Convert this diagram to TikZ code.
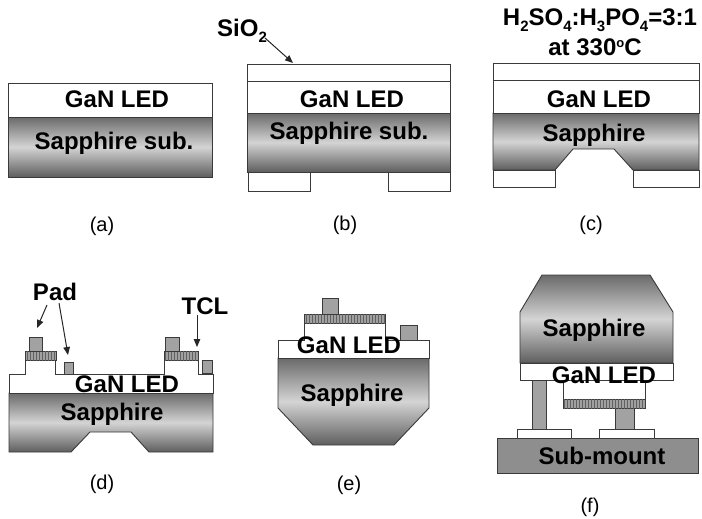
\documentclass[tikz,border=0pt]{standalone}
\usepackage{fontspec}
\setmainfont{Liberation Sans}
\usetikzlibrary{arrows.meta,patterns}

\definecolor{edgegray}{HTML}{3A3A3A}
\definecolor{sapdark}{HTML}{6A6A6A}
\definecolor{sapdarker}{HTML}{5E5E5E}
\definecolor{saplight}{HTML}{D4D4D4}
\definecolor{padgray}{HTML}{A2A2A2}
\definecolor{mountgray}{HTML}{8E8E8E}
\definecolor{tclgray}{HTML}{A0A0A0}

% chemical subscript and degree mark in the text font
\newcommand\chemsub[1]{\raisebox{-5.5pt}{\fontsize{15}{15}\selectfont #1}}
\newcommand\degmark{\raisebox{7.5pt}{\fontsize{13}{13}\selectfont o}}

\tikzset{
  layer/.style={draw=edgegray, line width=0.9pt, fill=white},
  sapphire/.style={draw=edgegray, line width=0.9pt,
    top color=sapdark, bottom color=sapdarker, middle color=saplight},
  padbox/.style={draw=edgegray, line width=0.8pt, fill=padgray},
  tclbox/.style={draw=edgegray, line width=0.8pt, fill=tclgray,
    postaction={pattern=vertical lines, pattern color=edgegray!80}},
  mount/.style={draw=edgegray, line width=0.9pt, fill=mountgray},
  lbl/.style={font=\fontsize{24}{24}\selectfont\bfseries, inner sep=0pt},
  caption/.style={font=\fontsize{20}{20}\selectfont, inner sep=0pt},
  arr/.style={-{Triangle[length=8pt,width=6.5pt]}, line width=1pt, draw=black!85},
}

\begin{document}
\begin{tikzpicture}[x=1pt,y=-1pt]
\useasboundingbox (0,0) rectangle (702,519);

% ---------- (a) as-grown wafer ----------
\path[sapphire] (8,117) rectangle (212,177);
\path[layer] (8,83) rectangle (212,117);
\node[lbl] (aGaN) at (117,99) {GaN LED};
\node[lbl] (aSap) at (114,143) {Sapphire sub.};
\node[caption] (aCap) at (102,226) {(a)};

% ---------- (b) SiO2 mask ----------
\path[sapphire] (247,113) rectangle (450,172);
\path[layer] (247,81) rectangle (450,113);
\path[layer] (247,64) rectangle (450,81);
\path[layer] (248,172) rectangle (310,191);
\path[layer] (388,172) rectangle (450,191);
\node[lbl] (bGaN) at (352,99) {GaN LED};
\node[lbl] (bSap) at (349,133) {Sapphire sub.};
\node[lbl] (bSiO) at (242,31) {SiO\chemsub{2}};
\coordinate (bSiOfrom) at (265,38);
\coordinate (bSiOto) at (293,63);
\draw[arr] (bSiOfrom) -- (bSiOto);
\node[caption] (bCap) at (345,225) {(b)};

% ---------- (c) wet etching ----------
\path[sapphire] (493,113) -- (699,113) -- (699,170) -- (633,170) -- (614,149)
  -- (573,149) -- (555,170) -- (493,170) -- cycle;
\path[layer] (493,80) rectangle (699,113);
\path[layer] (493,63) rectangle (699,80);
\path[layer] (493,170) rectangle (555,187);
\path[layer] (633,170) rectangle (699,187);
\node[lbl] (cGaN) at (599,99) {GaN LED};
\node[lbl] (cSap) at (594,135) {Sapphire};
\node[lbl] (cAcid) at (600,20) {H\chemsub{2}SO\chemsub{4}:H\chemsub{3}PO\chemsub{4}=3:1};
\node[lbl] (cTemp) at (595,47) {at 330\degmark C};
\node[caption] (cCap) at (591,225) {(c)};

% ---------- (d) mesa, TCL and pads ----------
\path[sapphire] (9,393) -- (213,393) -- (213,452) -- (149,452) -- (131,432)
  -- (90,432) -- (71,452) -- (9,452) -- cycle;
\path[layer] (9,393) -- (9,374) -- (25,374) -- (25,360) -- (55,360) -- (55,374)
  -- (164,374) -- (164,360) -- (198,360) -- (198,374) -- (213,374) -- (213,393) -- cycle;
\path[tclbox] (25,351) rectangle (56,360);
\path[tclbox] (164,351) rectangle (198,360);
\path[padbox] (29,337) rectangle (42,351);
\path[padbox] (165,337) rectangle (179,351);
\path[padbox] (64,362) rectangle (73,374);
\path[padbox] (202,360) rectangle (212,373);
\node[lbl] (dGaN) at (127,384) {GaN LED};
\node[lbl] (dSap) at (112,414) {Sapphire};
\node[lbl] (dPad) at (55,292) {Pad};
\node[lbl] (dTCL) at (205,306) {TCL};
\coordinate (dPadA) at (47,305);
\coordinate (dPadAto) at (37,328);
\coordinate (dPadB) at (59,303);
\coordinate (dPadBto) at (68,355);
\coordinate (dTCLfrom) at (197,315);
\coordinate (dTCLto) at (197,347);
\draw[arr] (dPadA) -- (dPadAto);
\draw[arr] (dPadB) -- (dPadBto);
\draw[arr] (dTCLfrom) -- (dTCLto);
\node[caption] (dCap) at (102,484) {(d)};

% ---------- (e) chamfered chip ----------
\path[sapphire] (278,358) -- (429,358) -- (429,408) -- (394,445) -- (313,445)
  -- (278,408) -- cycle;
\path[layer] (278,358) -- (278,340) -- (304,340) -- (304,323) -- (385,323)
  -- (385,340) -- (429,340) -- (429,358) -- cycle;
\path[tclbox] (304,314) rectangle (385,323);
\path[padbox] (322,298) rectangle (338,314);
\path[padbox] (400,325) rectangle (417,340);
\node[lbl] (eGaN) at (349,345) {GaN LED};
\node[lbl] (eSap) at (352,395) {Sapphire};
\node[caption] (eCap) at (349,485) {(e)};

% ---------- (f) flip-chip on sub-mount ----------
\path[mount] (497,438) rectangle (698,473);
\path[layer] (517,429) rectangle (571,438);
\path[layer] (599,429) rectangle (654,438);
\path[padbox] (532,380) rectangle (546,429);
\path[padbox] (615,408) rectangle (634,429);
\path[sapphire] (520,363) -- (520,312) -- (542,275) -- (650,275) -- (673,312)
  -- (673,363) -- cycle;
\path[layer] (520,363) rectangle (673,380);
\path[layer] (563,380) rectangle (645,399);
\path[tclbox] (563,399) rectangle (645,408);
\node[lbl] (fSap) at (594,330) {Sapphire};
\node[lbl] (fGaN) at (604,375) {GaN LED};
\node[lbl] (fMount) at (602,456) {Sub-mount};
\node[caption] (fCap) at (590,507) {(f)};
\end{tikzpicture}
\end{document}
